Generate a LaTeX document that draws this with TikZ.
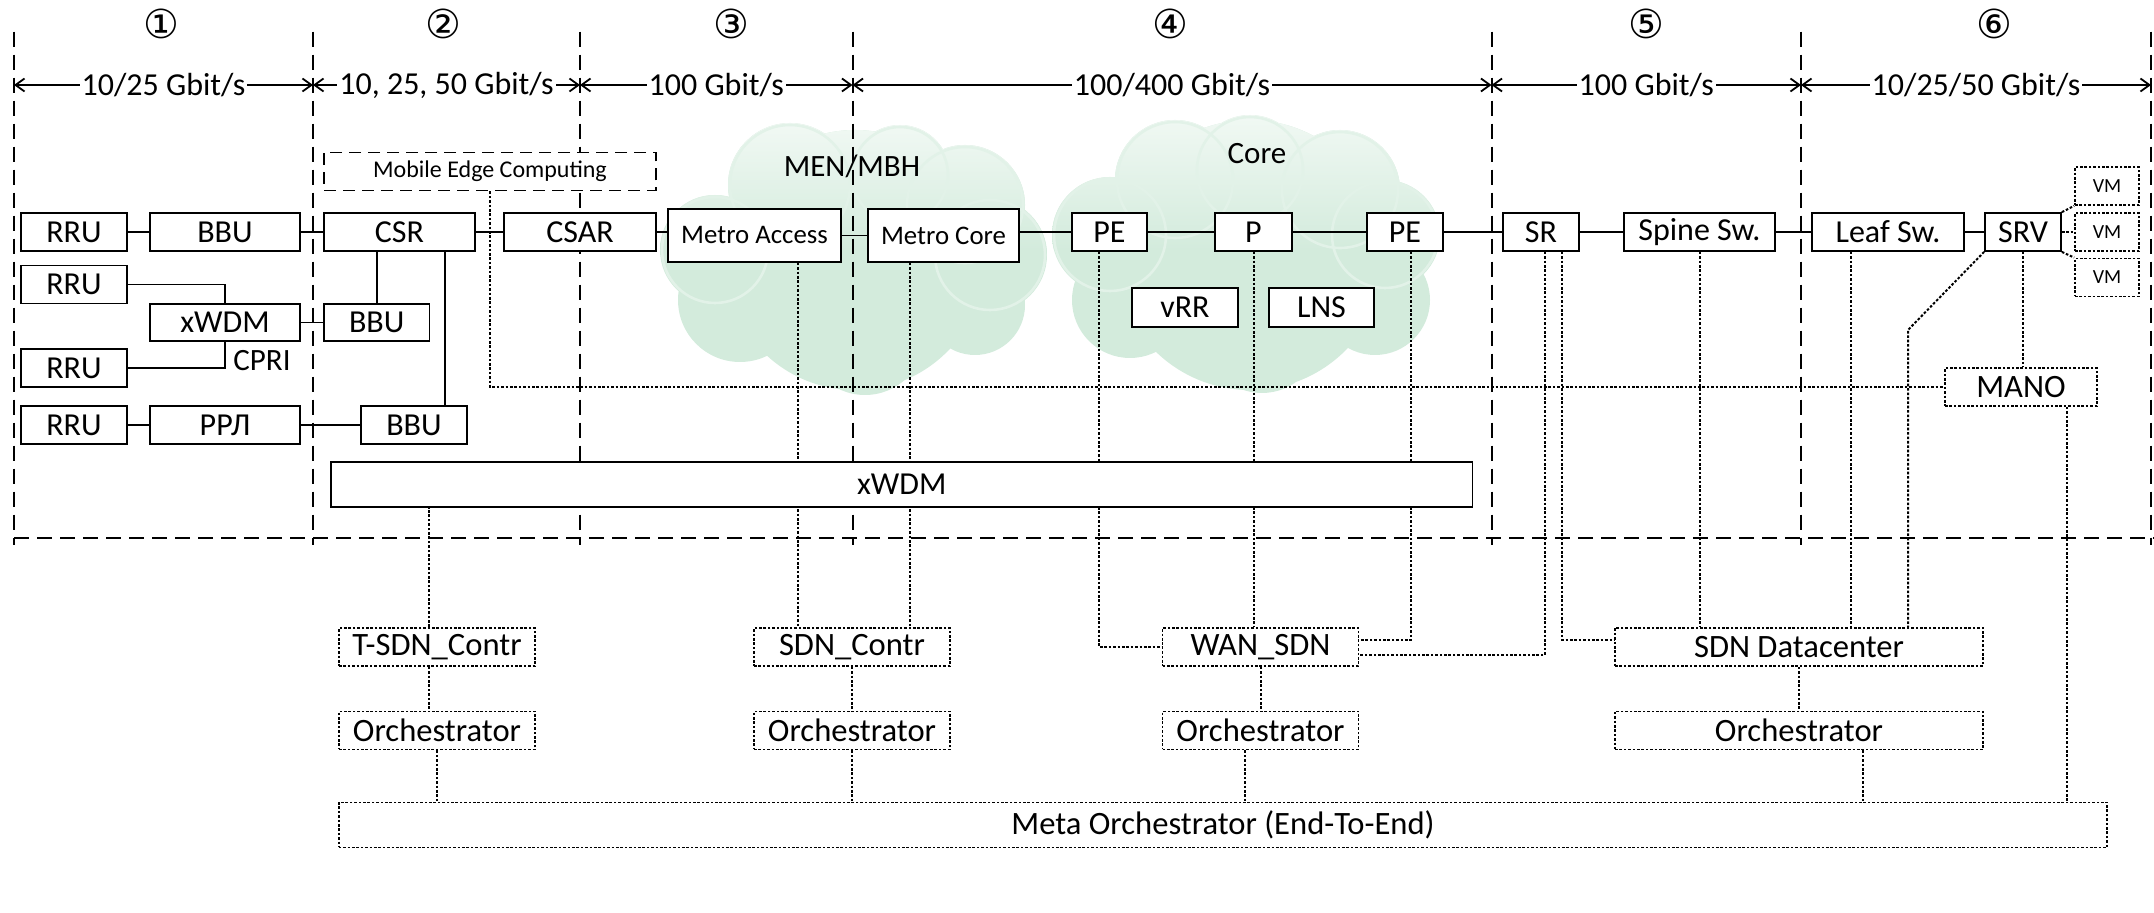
\documentclass[tikz,border=0pt]{standalone}
\usepackage{fontspec}
\setmainfont{Carlito}
\newfontfamily\circfont{DejaVu Sans}
\usetikzlibrary{arrows.meta,calc}
\pgfdeclarelayer{bg}
\pgfdeclarelayer{mid}
\pgfsetlayers{bg,mid,main}
\definecolor{cloudg}{RGB}{211,235,220}
\definecolor{cloudl}{RGB}{244,250,246}
\definecolor{cloudrim}{RGB}{226,242,232}
\tikzset{
  wh/.style 2 args={minimum width=#1*0.5pt, minimum height=#2*0.5pt},
  box/.style={draw, line width=0.9pt, fill=white, inner sep=0pt, font=\fontsize{16}{19}\selectfont},
  mbox/.style={box, font=\fontsize{13.4}{16}\selectfont},
  dbox/.style={box, dash pattern=on 1.3pt off 0.9pt, font=\fontsize{16.3}{19}\selectfont},
  mecbox/.style={box, dash pattern=on 6pt off 3.5pt, font=\fontsize{12}{14}\selectfont},
  vmbox/.style={dbox, font=\fontsize{10}{12}\selectfont},
  link/.style={line width=0.9pt},
  dlink/.style={line width=1pt, dash pattern=on 1.3pt off 0.9pt},
  zone/.style={line width=1pt, dash pattern=on 7.5pt off 4pt},
  rate/.style={line width=0.9pt, <->, >={Straight Barb[length=4.5pt,width=6.5pt]}},
  ratelbl/.style={fill=white, inner xsep=1pt, inner ysep=0pt, font=\fontsize{16}{19}\selectfont},
  num/.style={inner sep=0pt, font=\circfont\fontsize{20}{22}\selectfont},
  plainlbl/.style={inner sep=0pt, font=\fontsize{15.5}{18}\selectfont},
}
% all bubbles (x/y/r in px)
\def\menlist{855/260/130, 715/250/55, 740/300/62, 790/185/62, 900/175/50, 965/205/60, 990/255/57, 975/305/50, 865/335/60}
\def\menrim{715/250/55, 790/185/62, 900/175/50, 965/205/60, 990/255/57}
\def\corelist{1250/255/135, 1110/235/58, 1130/300/58, 1175/180/60, 1250/170/55, 1340/190/60, 1385/235/55, 1375/300/55, 1262/335/58}
\def\corerim{1110/235/58, 1175/180/60, 1250/170/55, 1340/190/60, 1385/235/55}
\begin{document}
\begin{tikzpicture}[x=0.5pt,y=-0.5pt]
\useasboundingbox (0,0) rectangle (2154,913);

% ---------- boxes ----------
\node[box, wh={106}{38}] (rru1) at (74,232) {RRU};
\node[box, wh={150}{38}] (bbu1) at (225,232) {BBU};
\node[box, wh={151}{38}] (csr) at (399.5,232) {CSR};
\node[box, wh={152}{38}] (csar) at (580,232) {CSAR};
\node[mbox, wh={173}{53}] (ma) at (754.5,235.5) {Metro Access};
\node[mbox, wh={151}{53}] (mc) at (943.5,235.5) {Metro Core};
\node[box, wh={75}{38}] (pe1) at (1109.5,232) {PE};
\node[box, wh={77}{38}] (p) at (1253.5,232) {P};
\node[box, wh={76}{38}] (pe2) at (1405,232) {PE};
\node[box, wh={76}{38}] (sr) at (1541,232) {SR};
\node[box, wh={151}{38}] (spine) at (1699.5,232) {Spine Sw.};
\node[box, wh={152}{38}] (leaf) at (1888,232) {Leaf Sw.};
\node[box, wh={76}{38}] (srv) at (2023,232) {SRV};
\node[box, wh={106}{38}] (rru2) at (74,284.5) {RRU};
\node[box, wh={150}{37}] (xwdms) at (225,322.5) {xWDM};
\node[box, wh={105.5}{37}] (bbu2) at (376.75,322.5) {BBU};
\node[box, wh={106}{38}] (rru3) at (74,368) {RRU};
\node[box, wh={106}{38}] (rru4) at (74,425) {RRU};
\node[box, wh={150}{38}] (rrl) at (225,425) {РРЛ};
\node[box, wh={106}{38}] (bbu3) at (414,425) {BBU};
\node[box, wh={106}{39}] (vrr) at (1185,307.5) {vRR};
\node[box, wh={105}{39}] (lns) at (1321.5,307.5) {LNS};
\node[box, wh={1141.5}{45}] (xwdm) at (901.75,484.5) {xWDM};
\node[mecbox, wh={332}{38}] (mec) at (490,171.5) {Mobile Edge Computing};
\node[vmbox, wh={64}{38}] (vm1) at (2107,186) {VM};
\node[vmbox, wh={64}{38}] (vm2) at (2107,232) {VM};
\node[vmbox, wh={64}{38}] (vm3) at (2107,277.5) {VM};
\node[dbox, wh={152}{38}] (mano) at (2021,387) {MANO};
\node[dbox, wh={196}{38}] (tsdn) at (437,647) {T-SDN\_Contr};
\node[dbox, wh={196}{38}] (orch1) at (437,730.5) {Orchestrator};
\node[dbox, wh={196}{38}] (sdnc) at (852,647) {SDN\_Contr};
\node[dbox, wh={196}{38}] (orch2) at (852,730.5) {Orchestrator};
\node[dbox, wh={196}{38}] (wan) at (1260.5,647) {WAN\_SDN};
\node[dbox, wh={196}{38}] (orch3) at (1260.5,730.5) {Orchestrator};
\node[dbox, wh={368}{38}] (sdndc) at (1799,647) {SDN Datacenter};
\node[dbox, wh={368}{38}] (orch4) at (1799,730.5) {Orchestrator};
\node[dbox, wh={1768.5}{45}] (meta) at (1223,825) {Meta Orchestrator (End-To-End)};

% ---------- clouds ----------
\begin{pgfonlayer}{bg}
  \fill[cloudg] foreach \x/\y/\r in \menlist {(\x,\y) circle[radius=\r*0.5pt]};
  \fill[cloudg] foreach \x/\y/\r in \corelist {(\x,\y) circle[radius=\r*0.5pt]};
  \begin{scope}
    \clip foreach \x/\y/\r in \menlist {(\x,\y) circle[radius=\r*0.5pt]};
    \shade[top color=cloudl, bottom color=cloudg] (640,110) rectangle (1060,250);
    \draw[cloudrim, line width=1.3pt] foreach \x/\y/\r in \menrim {(\x,\y) circle[radius=\r*0.5pt-1pt]};
  \end{scope}
  \begin{scope}
    \clip foreach \x/\y/\r in \corelist {(\x,\y) circle[radius=\r*0.5pt]};
    \shade[top color=cloudl, bottom color=cloudg] (1040,100) rectangle (1460,250);
    \draw[cloudrim, line width=1.3pt] foreach \x/\y/\r in \corerim {(\x,\y) circle[radius=\r*0.5pt-1pt]};
  \end{scope}
  \node[plainlbl] (menlbl) at (852,166) {MEN/MBH};
  \node[plainlbl] (corelbl) at (1257,154) {Core};
\end{pgfonlayer}

% ---------- zones, rates, connectors ----------
\begin{pgfonlayer}{mid}
  \foreach \bx in {14,313,580,852.5,1491.5,1801,2151}
    \draw[zone] (\bx,31.6) -- (\bx,545);
  \draw[zone] (14,537.7) -- (2154,537.7);

  \coordinate (b0) at (14,85);
  \coordinate (b1) at (313,85);
  \coordinate (b2) at (580,85);
  \coordinate (b3) at (852.5,85);
  \coordinate (b4) at (1491.5,85);
  \coordinate (b5) at (1801,85);
  \coordinate (b6) at (2151,85);
  \draw[rate] (b0) -- node[ratelbl] {10/25 Gbit/s} (b1);
  \draw[rate] (b1) -- node[ratelbl] {10, 25, 50 Gbit/s} (b2);
  \draw[rate] (b2) -- node[ratelbl] {100 Gbit/s} (b3);
  \draw[rate] (b3) -- node[ratelbl] {100/400 Gbit/s} (b4);
  \draw[rate] (b4) -- node[ratelbl] {100 Gbit/s} (b5);
  \draw[rate] (b5) -- node[ratelbl] {10/25/50 Gbit/s} (b6);

  \node[num] (n1) at (161.6,24) {①};
  \node[num] (n2) at (443,24) {②};
  \node[num] (n3) at (731,24) {③};
  \node[num] (n4) at (1170,24) {④};
  \node[num] (n5) at (1646,24) {⑤};
  \node[num] (n6) at (1994.6,24) {⑥};

  \node[plainlbl] (cpri) at (262,361) {CPRI};

  % solid links
  \draw[link] (rru1) -- (bbu1);
  \draw[link] (bbu1) -- (csr);
  \draw[link] (csr) -- (csar);
  \draw[link] (csar.east) -- (csar.east -| ma.west);
  \draw[link] (ma.east) -- (mc.west);
  \draw[link] (pe1.west -| mc.east) -- (pe1.west);
  \draw[link] (pe1) -- (p);
  \draw[link] (p) -- (pe2);
  \draw[link] (pe2) -- (sr);
  \draw[link] (sr) -- (spine);
  \draw[link] (spine) -- (leaf);
  \draw[link] (leaf) -- (srv);
  \draw[link] (rru2.east) -| (xwdms.north);
  \draw[link] (rru3.east) -| (xwdms.south);
  \draw[link] (xwdms) -- (bbu2);
  \draw[link] (csr.south -| bbu2.north) -- (bbu2.north);
  \draw[link] ([xshift=15.5pt]bbu3.north) -- ([xshift=15.5pt]bbu3.north |- csr.south);
  \draw[link] (rru4) -- (rrl);
  \draw[link] (rrl) -- (bbu3);

  % dotted links
  \draw[dlink] (mec.south) |- (mano.west);
  \draw[dlink] ([xshift=21.75pt]ma.south) -- ([xshift=21.75pt]ma.south |- sdnc.north);
  \draw[dlink] ([xshift=-16.75pt]mc.south) -- ([xshift=-16.75pt]mc.south |- sdnc.north);
  \draw[dlink] ([xshift=-4pt]tsdn.north) -- ([xshift=-4pt]tsdn.north |- xwdm.south);
  \draw[dlink] ([xshift=-4pt]tsdn.south) -- ([xshift=-4pt]tsdn.south |- orch1.north);
  \draw[dlink] (orch1.south) -- (orch1.south |- meta.north);
  \draw[dlink] (sdnc.south) -- (orch2.north);
  \draw[dlink] (orch2.south) -- (orch2.south |- meta.north);
  \draw[dlink] ([xshift=-5.25pt]pe1.south) |- (wan.west);
  \draw[dlink] (p.south) -- (p.south |- wan.north);
  \draw[dlink] ([xshift=3pt]pe2.south) |- ([yshift=3.5pt]wan.east);
  \draw[dlink] ([xshift=2pt]sr.south) |- ([yshift=-4pt]wan.east);
  \draw[dlink] ([xshift=10.5pt]sr.south) |- ([yshift=3.5pt]sdndc.west);
  \draw[dlink] (spine.south) -- (spine.south |- sdndc.north);
  \draw[dlink] ([xshift=-18.75pt]leaf.south) -- ([xshift=-18.75pt]leaf.south |- sdndc.north);
  \coordinate (srvbend) at (1908,330);
  \draw[dlink] (srv.south west) -- (srvbend) -- (srvbend |- sdndc.north);
  \draw[dlink] (srv.south) -- (srv.south |- mano.north);
  \draw[dlink] ([xshift=23pt]mano.south) -- ([xshift=23pt]mano.south |- meta.north);
  \draw[dlink] (wan.south) -- (orch3.north);
  \draw[dlink] ([xshift=-7.75pt]orch3.south) -- ([xshift=-7.75pt]orch3.south |- meta.north);
  \draw[dlink] (sdndc.south) -- (orch4.north);
  \draw[dlink] ([xshift=32pt]orch4.south) -- ([xshift=32pt]orch4.south |- meta.north);
  \draw[dlink] (srv.north east) -- (vm1.south west);
  \draw[dlink] (srv.east) -- (vm2.west);
  \draw[dlink] (srv.south east) -- (vm3.north west);
\end{pgfonlayer}
\end{tikzpicture}
\end{document}
